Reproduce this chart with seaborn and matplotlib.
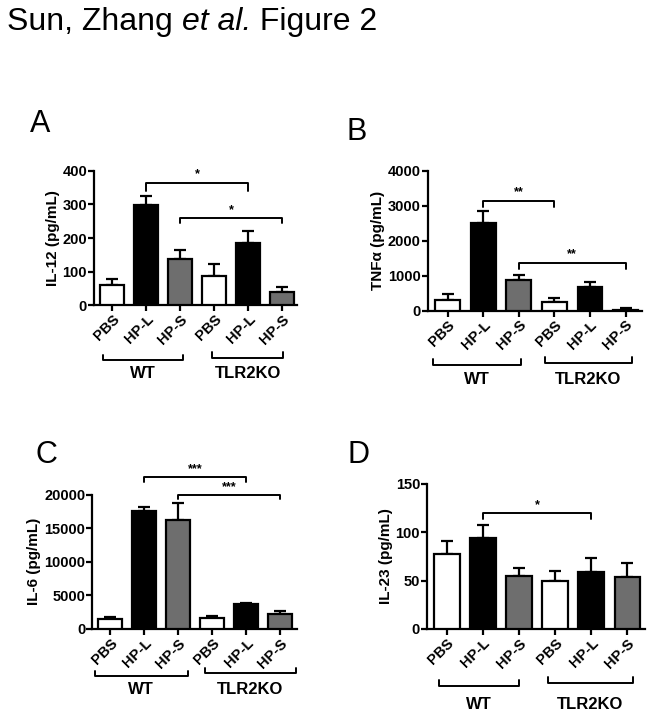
import numpy as np
import pandas as pd
import seaborn as sns
import matplotlib.pyplot as plt

# Data (mean, upper error bar end)
groups = ["PBS", "HP-L", "HP-S", "PBS", "HP-L", "HP-S"]
bar_colors = ["white", "black", "#6e6e6e", "white", "black", "#6e6e6e"]

il12_mean = [60, 297, 138, 88, 186, 40]
il12_top = [78, 325, 163, 122, 220, 55]

tnf_mean = [320, 2500, 880, 250, 680, 30]
tnf_top = [480, 2850, 1020, 380, 830, 70]

il6_mean = [1500, 17600, 16300, 1600, 3700, 2200]
il6_top = [1800, 18200, 18700, 2000, 3900, 2700]

il23_mean = [78, 94, 55, 50, 59, 54]
il23_top = [91, 108, 63, 60, 73, 68]

sns.set_style("ticks", {"axes.edgecolor": "black", "text.color": "black",
                        "axes.labelcolor": "black", "xtick.color": "black",
                        "ytick.color": "black"})
plt.rcParams['font.family'] = ['Liberation Sans', 'DejaVu Sans']

fig = plt.figure(figsize=(6.53, 7.18), dpi=100)


def panel(rect, mean, top, ylabel, yticks, xlim, sig, groupbr):
    ax = fig.add_axes(rect)
    df = pd.DataFrame({"pos": [str(i) for i in range(6)], "val": mean})
    sns.barplot(data=df, x="pos", y="val", hue="pos", palette=bar_colors,
                legend=False, edgecolor="black", linewidth=1.6, width=0.7,
                errorbar=None, ax=ax, zorder=3)
    err = np.array(top) - np.array(mean)
    ax.errorbar(range(6), mean, yerr=[np.zeros(6), err], fmt="none",
                ecolor="black", elinewidth=1.6, capsize=4, capthick=1.6, zorder=2)
    ax.set_ylim(yticks[0], yticks[-1])
    ax.set_xlim(*xlim)
    ax.set_yticks(yticks)
    ax.set_yticklabels([str(t) for t in yticks], fontsize=10.5, fontweight="bold")
    ax.set_xticks(range(6))
    ax.set_xticklabels(groups, rotation=45, ha="right", rotation_mode="anchor",
                       fontsize=10.5, fontweight="bold")
    ax.set_xlabel("")
    ax.set_ylabel(ylabel, fontsize=11, fontweight="bold", labelpad=2)
    for s in ["left", "bottom"]:
        ax.spines[s].set_linewidth(1.6)
    sns.despine(ax=ax)
    ax.tick_params(width=1.6, length=4, pad=1)

    # significance brackets
    for x0, x1, y, drop, label in sig:
        ax.plot([x0, x0, x1, x1], [y - drop, y, y, y - drop], color="black",
                lw=1.4, clip_on=False)
        ax.text((x0 + x1) / 2, y + drop * 0.4, label, ha="center", va="bottom",
                fontsize=9, fontweight="bold")

    # group brackets below the axis
    tr = ax.get_xaxis_transform()
    for x0, x1, y, ty, label in groupbr:
        ax.plot([x0, x0, x1, x1], [y + 0.04, y, y, y + 0.04], color="black",
                lw=1.4, transform=tr, clip_on=False)
        ax.text((x0 + x1) / 2, ty, label, transform=tr, ha="center",
                va="center", fontsize=12, fontweight="bold")
    return ax


panel([0.144, 0.575, 0.311, 0.187], il12_mean, il12_top, "IL-12 (pg/mL)",
      [0, 100, 200, 300, 400], (-0.53, 5.44),
      [(1, 4, 364, 24, "*"), (2, 5, 260, 15, "*")],
      [(-0.26, 2.09, -0.41, -0.51, "WT"), (2.94, 5.03, -0.39, -0.51, "TLR2KO")])

panel([0.655, 0.567, 0.328, 0.195], tnf_mean, tnf_top, "TNF\u03b1 (pg/mL)",
      [0, 1000, 2000, 3000, 4000], (-0.56, 5.46),
      [(1, 3, 3150, 170, "**"), (2, 5, 1370, 170, "**")],
      [(-0.42, 2.06, -0.386, -0.49, "WT"), (2.73, 5.18, -0.371, -0.49, "TLR2KO")])

panel([0.141, 0.124, 0.314, 0.187], il6_mean, il6_top, "IL-6 (pg/mL)",
      [0, 5000, 10000, 15000, 20000], (-0.53, 5.5),
      [(1, 4, 22640, 740, "***"), (2, 5, 20000, 600, "***")],
      [(-0.45, 2.28, -0.35, -0.45, "WT"), (2.79, 5.46, -0.33, -0.45, "TLR2KO")])

panel([0.654, 0.124, 0.334, 0.202], il23_mean, il23_top, "IL-23 (pg/mL)",
      [0, 50, 100, 150], (-0.55, 5.5),
      [(1, 4, 119.6, 6, "*")],
      [(-0.22, 2.0, -0.39, -0.52, "WT"), (2.8, 5.17, -0.37, -0.52, "TLR2KO")])

# title in three pieces (italic "et al.")
t1 = fig.text(0.011, 0.958, "Sun, Zhang ", fontsize=23, va="baseline")
t2 = plt.annotate("et al.", xy=(1, 0), xycoords=t1, fontsize=23,
                  style="italic", va="bottom", annotation_clip=False)
plt.annotate(" Figure 2", xy=(1, 0), xycoords=t2, fontsize=23,
             va="bottom", annotation_clip=False)

# panel letters
fig.text(40 / 653, 1 - 124 / 718, "A", fontsize=22, ha="center", va="center")
fig.text(357 / 653, 1 - 132 / 718, "B", fontsize=22, ha="center", va="center")
fig.text(46 / 653, 1 - 455 / 718, "C", fontsize=22, ha="center", va="center")
fig.text(359 / 653, 1 - 455 / 718, "D", fontsize=22, ha="center", va="center")

fig.savefig("out.png", dpi=100)
